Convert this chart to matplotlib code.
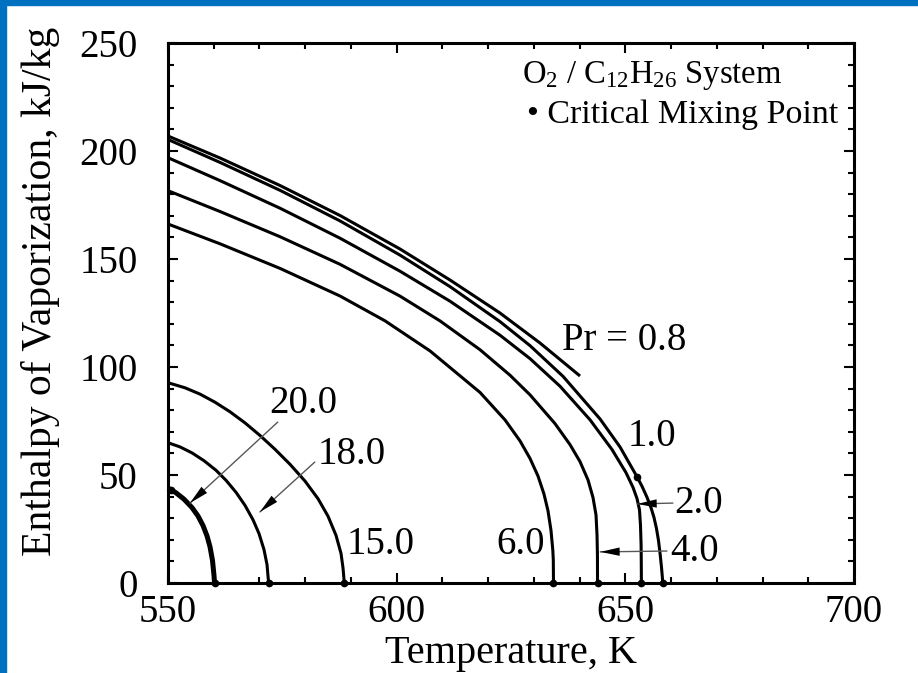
import matplotlib
matplotlib.use("Agg")
import matplotlib.pyplot as plt
from matplotlib.patches import Rectangle
from matplotlib.ticker import MultipleLocator

plt.rcParams['font.family'] = ['Liberation Serif', 'DejaVu Serif']
plt.rcParams['mathtext.fontset'] = 'custom'
plt.rcParams['mathtext.rm'] = 'Liberation Serif'
plt.rcParams['mathtext.it'] = 'Liberation Serif:italic'

# ---- data ----
T_pr08 = [550, 561.37, 574.49, 587.61, 600.73, 611.66, 622.59, 631.34, 640.09]
H_pr08 = [206.94, 196.76, 184.03, 170.14, 154.63, 140.28, 125.00, 111.11, 95.83]

T_pr10 = [550, 561.37, 574.49, 587.61, 600.73, 611.66, 622.59, 629.15, 636.37, 644.46,
          648.83, 652.55, 653.64, 654.73, 655.61, 656.27, 656.81, 657.25, 657.62, 657.91,
          658.10, 658.19]
H_pr10 = [205.32, 194.72, 181.81, 167.64, 151.81, 137.22, 121.02, 109.91, 95.69, 75.97,
          63.01, 49.21, 44.81, 39.72, 34.91, 30.32, 25.23, 19.68, 13.19, 7.18,
          2.55, 0]

T_pr20 = [550, 561.37, 574.49, 587.61, 600.73, 611.66, 622.59, 629.15, 635.71, 642.28,
          647.08, 650.14, 651.67, 652.55, 653.10, 653.31, 653.45, 653.49, 653.51]
H_pr20 = [196.90, 186.30, 173.52, 159.63, 144.35, 130.46, 114.72, 103.89, 91.11, 75.56,
          61.81, 51.11, 44.31, 39.12, 33.80, 26.85, 17.59, 8.33, 0]

T_pr40 = [550, 561.37, 574.49, 587.61, 600.73, 609.48, 618.22, 624.78, 629.15, 634.62,
          637.90, 640.09, 641.84, 642.93, 643.59, 643.81, 643.90, 643.92]
H_pr40 = [181.62, 171.99, 160.32, 147.55, 132.82, 121.34, 108.01, 96.20, 87.13, 73.80,
          64.07, 56.20, 47.69, 39.58, 31.48, 22.22, 12.96, 0]

T_pr60 = [550, 561.37, 574.49, 587.61, 597.44, 607.29, 618.22, 623.69, 626.97, 629.15,
          630.90, 632.21, 633.09, 633.74, 634.14, 634.25, 634.29]
H_pr60 = [166.20, 157.04, 145.65, 132.87, 121.39, 107.45, 88.24, 75.51, 65.79, 57.69,
          49.54, 41.20, 33.43, 24.40, 15.28, 10.65, 0]

T_pr150 = [550, 553.72, 557.00, 560.28, 563.56, 566.84, 570.12, 573.40, 576.68, 579.96,
           582.80, 584.99, 586.74, 587.83, 588.27, 588.55]
H_pr150 = [92.73, 90.37, 87.45, 83.70, 79.26, 74.12, 68.29, 61.90, 54.95, 47.18,
           39.03, 30.93, 22.04, 13.70, 6.94, 0]

T_pr180 = [550, 552.62, 555.25, 557.87, 560.50, 562.68, 564.87, 566.84, 568.59, 569.90,
           570.99, 571.65, 572.00]
H_pr180 = [64.95, 63.01, 60.23, 56.62, 52.18, 47.55, 41.99, 35.93, 29.26, 22.87,
           15.46, 8.52, 0]

T_pr200 = [550, 551.75, 553.50, 555.25, 556.56, 557.65, 558.53, 559.18, 559.73, 560.06, 560.17]
H_pr200 = [43.98, 41.76, 38.80, 34.91, 31.02, 26.62, 21.81, 16.81, 10.42, 3.47, 0]

# critical mixing points
T_cmp = [560.17, 572.0, 588.55, 634.29, 643.92, 653.51, 658.19, 550.6, 652.55]
H_cmp = [0, 0, 0, 0, 0, 0, 0, 43.0, 49.2]

# ---- figure ----
fig = plt.figure(figsize=(9.18, 6.73), dpi=100)
ax = fig.add_axes([168/918, 1-583/673, 686/918, 540/673])

lw = 2.2
for T, H in [(T_pr08, H_pr08), (T_pr10, H_pr10), (T_pr20, H_pr20), (T_pr40, H_pr40),
             (T_pr60, H_pr60), (T_pr150, H_pr150), (T_pr180, H_pr180)]:
    ax.plot(T, H, color='black', lw=lw, solid_capstyle='butt', solid_joinstyle='round',
            clip_on=False, zorder=3)
ax.plot(T_pr200, H_pr200, color='black', lw=3.6, solid_capstyle='butt',
        solid_joinstyle='round', clip_on=False, zorder=3)

ax.plot(T_cmp, H_cmp, 'o', color='black', ms=4.5, clip_on=False, zorder=4)

ax.set_xlim(550, 700)
ax.set_ylim(0, 250)
ax.xaxis.set_major_locator(MultipleLocator(50))
ax.xaxis.set_minor_locator(MultipleLocator(10))
ax.yaxis.set_major_locator(MultipleLocator(50))
ax.yaxis.set_minor_locator(MultipleLocator(10))
ax.tick_params(which='both', direction='in', top=True, right=True, width=1.5, colors='black')
ax.tick_params(which='major', length=7.5)
ax.tick_params(which='minor', length=4)
ax.tick_params(axis='x', which='major', labelsize=28, pad=8)
ax.tick_params(axis='y', which='major', labelsize=28, pad=22)
for s in ax.spines.values():
    s.set_linewidth(2.2)

ax.set_xlabel('Temperature, K', fontsize=29, labelpad=3)
ax.set_ylabel('Enthalpy of Vaporization, kJ/kg', fontsize=30)
ax.yaxis.set_label_coords(-0.157, 0.54)

fs = 28
ax.text(649.7, 112.5, 'Pr = 0.8', fontsize=fs, ha='center', va='center')
ax.text(655.8, 67.6, '1.0', fontsize=fs, ha='center', va='center')
ax.text(660.8, 37.0, '2.0', fontsize=fs, ha='left', va='center')
ax.text(659.8, 14.8, '4.0', fontsize=fs, ha='left', va='center')
ax.text(627.0, 17.6, '6.0', fontsize=fs, ha='center', va='center')
ax.text(596.4, 17.6, '15.0', fontsize=fs, ha='center', va='center')
ax.text(590.2, 59.3, '18.0', fontsize=fs, ha='center', va='center')
ax.text(579.5, 83.3, '20.0', fontsize=fs, ha='center', va='center')

def arrow(tail, head):
    ax.annotate('', xy=head, xytext=tail,
                arrowprops=dict(arrowstyle='-', color='0.35', lw=1.0,
                                shrinkA=0, shrinkB=0), zorder=5)
    ax.annotate('', xy=head, xytext=tail,
                arrowprops=dict(arrowstyle='-|>,head_length=1.4,head_width=0.3',
                                color='black', lw=0.01, shrinkA=0, shrinkB=0),
                zorder=6)

arrow((574.0, 74.5), (554.8, 37.0))
arrow((582.1, 56.0), (570.1, 32.9))
arrow((660.4, 37.0), (652.6, 36.6))
arrow((659.1, 14.8), (644.5, 14.4))

ax.text(0.516, 0.939, r'O$_2$ / C$_{12}$H$_{26}$ System', transform=ax.transAxes,
        fontsize=23.5, ha='left', va='center')
ax.text(0.523, 0.867, '\u2022 Critical Mixing Point', transform=ax.transAxes,
        fontsize=24.5, ha='left', va='center')

blue = '#0070C0'
fig.patches.append(Rectangle((0, 1-5/673), 1, 5/673, transform=fig.transFigure,
                             color=blue, zorder=10))
fig.patches.append(Rectangle((0, 0), 6/918, 1, transform=fig.transFigure,
                             color=blue, zorder=10))

fig.savefig('out.png', dpi=100)
